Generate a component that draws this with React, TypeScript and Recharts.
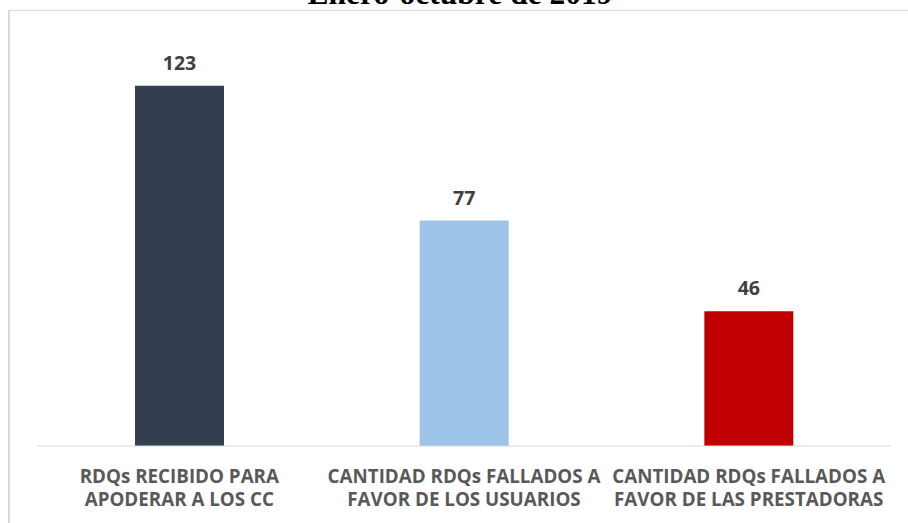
import React from 'react';
import { BarChart, Bar, XAxis, YAxis, Cell, LabelList } from 'recharts';

const categories = [
  'RDQs RECIBIDO PARA APODERAR A LOS CC',
  'CANTIDAD RDQs FALLADOS A FAVOR DE LOS USUARIOS',
  'CANTIDAD RDQs FALLADOS A FAVOR DE LAS PRESTADORAS',
];
const tickLines = [
  ['RDQs RECIBIDO PARA', 'APODERAR A LOS CC'],
  ['CANTIDAD RDQs FALLADOS A', 'FAVOR DE LOS USUARIOS'],
  ['CANTIDAD RDQs FALLADOS A', 'FAVOR DE LAS PRESTADORAS'],
];
const values = [123, 77, 46];
const barColors = ['#333F50', '#9DC3E6', '#C00000'];
const title = 'Enero-octubre de 2019';

const data = categories.map((name, i) => ({ name, value: values[i] }));

const FONT = '"Open Sans", "DejaVu Sans", sans-serif';

function CategoryTick(props: any) {
  const { x, y, index } = props;
  const lines = tickLines[index] || [];
  return (
    <g>
      {lines.map((line, i) => (
        <text
          key={i}
          x={x}
          y={y + 31 + i * 23}
          textAnchor="middle"
          fill="#595959"
          fontFamily={FONT}
          fontWeight={700}
          fontSize={18.8}
        >
          {line}
        </text>
      ))}
    </g>
  );
}

export default function App() {
  return (
    <div
      style={{
        position: 'absolute',
        left: 0,
        top: 0,
        width: 908,
        height: 523,
        overflow: 'hidden',
        background: '#fff',
      }}
    >
      <div
        style={{
          position: 'absolute',
          left: 8,
          top: 10,
          width: 1000,
          height: 1000,
          borderTop: '1px solid #d9d9d9',
          borderLeft: '2px solid #d9d9d9',
        }}
      />
      <svg width={908} height={30} style={{ position: 'absolute', left: 0, top: 0 }}>
        <text
          x={460}
          y={4}
          textAnchor="middle"
          fontFamily='"Liberation Serif", "Times New Roman", serif'
          fontWeight={700}
          fontSize={31.5}
          fill="#000"
        >
          {title}
        </text>
      </svg>
      <div style={{ position: 'absolute', left: 0, top: 0 }}>
        <BarChart
          width={908}
          height={523}
          data={data}
          margin={{ top: 36, right: 17, left: 37, bottom: 47 }}
        >
          <XAxis
            dataKey="name"
            height={30}
            axisLine={{ stroke: '#d9d9d9', strokeWidth: 1 }}
            tickLine={false}
            tickMargin={0}
            interval={0}
            tick={<CategoryTick />}
          />
          <YAxis hide domain={[0, 140]} />
          <Bar dataKey="value" barSize={89} isAnimationActive={false}>
            {data.map((d, i) => (
              <Cell key={d.name} fill={barColors[i]} />
            ))}
            <LabelList
              dataKey="value"
              position="top"
              offset={16}
              fill="#404040"
              fontFamily={FONT}
              fontWeight={700}
              fontSize={19.5}
            />
          </Bar>
        </BarChart>
      </div>
    </div>
  );
}
